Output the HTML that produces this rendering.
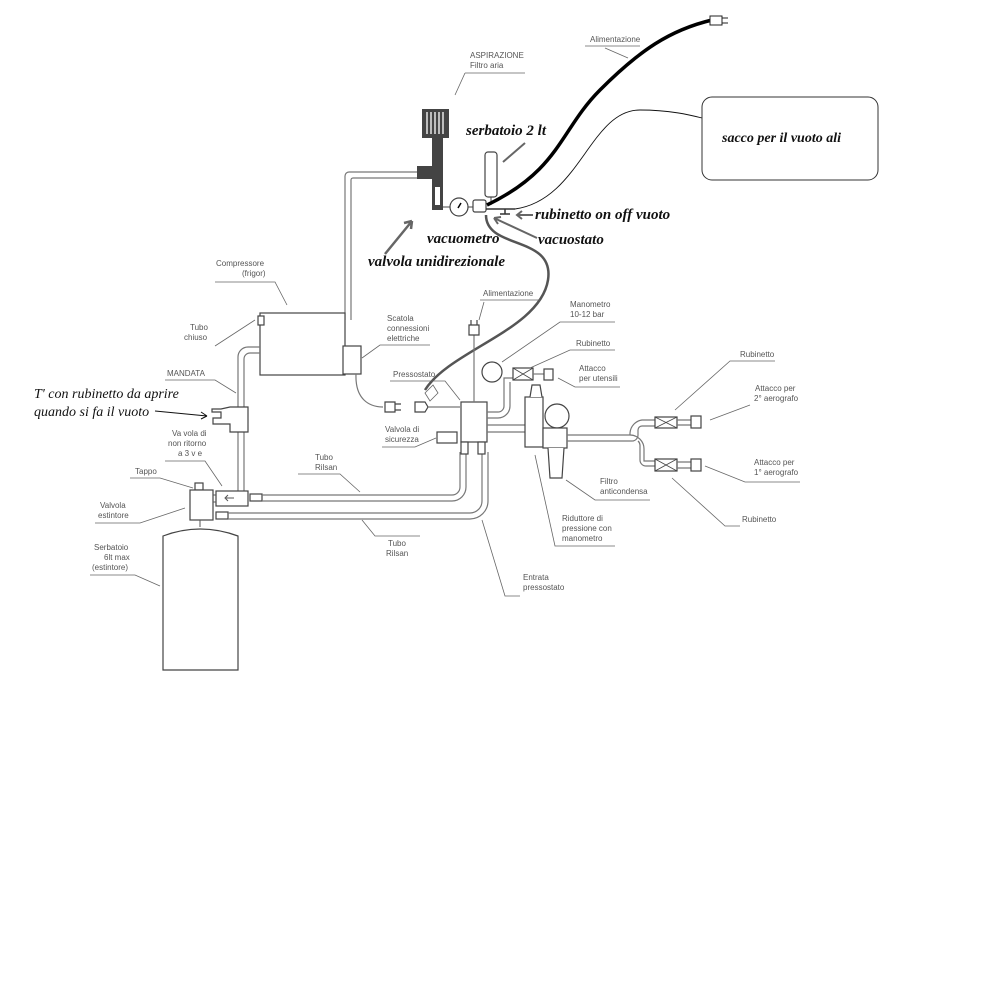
<!DOCTYPE html>
<html><head><meta charset="utf-8"><style>
html,body{margin:0;padding:0;background:#fff;}
svg{display:block;}
.l{font-family:"Liberation Sans",sans-serif;font-size:8px;fill:#555;}
.b{font-family:"Liberation Serif",serif;font-weight:bold;font-style:italic;font-size:15px;fill:#111;}
.h{font-family:"Liberation Serif",serif;font-style:italic;font-size:14px;fill:#111;}
.ld{stroke:#666;stroke-width:0.8;fill:none;}
.p{fill:none;stroke:#777;stroke-width:1.2;}
.s{fill:#fff;stroke:#444;stroke-width:1.2;}
</style></head><body>
<svg width="1000" height="1000" viewBox="0 0 1000 1000">
<!-- top part -->
<text class="l" x="470" y="58">ASPIRAZIONE</text><text class="l" x="470" y="68">Filtro aria</text>
<path class="ld" d="M465 73 L525 73 M465 73 L455 95"/>
<text class="l" x="590" y="42">Alimentazione</text>
<path class="ld" d="M585 46 L640 46 M605 48 L628 58"/>
<!-- filter -->
<rect x="422" y="109" width="27" height="29" fill="#444"/>
<path d="M427 112v22M431 112v22M435 112v22M439 112v22M443 112v22" stroke="#fff" stroke-width="1.3"/>
<rect x="432" y="138" width="11" height="72" fill="#444"/>
<rect x="417" y="166" width="26" height="13" fill="#444"/>
<rect x="435" y="187" width="5" height="18" fill="#fff"/>
<path d="M345 320 V176 a4 4 0 0 1 4 -4 H417 M351 320 V180 a2 2 0 0 1 2 -2 H417" class="p" stroke="#555"/>
<line x1="443" y1="207" x2="450" y2="207" stroke="#444"/>
<circle cx="459" cy="207" r="9" class="s"/>
<line x1="458" y1="208" x2="461" y2="203" stroke="#000" stroke-width="1.5"/>
<line x1="468" y1="207" x2="473" y2="207" stroke="#444"/>
<rect x="473" y="200" width="13" height="12" rx="2" class="s"/>
<rect x="485" y="152" width="12" height="45" rx="3" class="s"/>
<line x1="491" y1="197" x2="491" y2="205" stroke="#444"/>
<path d="M486 209 H515 M505 209 v5 M500 214 h10" stroke="#333" stroke-width="1.5" fill="none"/>
<path d="M487 205 C560 170 560 130 600 90 C640 50 670 30 712 20" stroke="#000" stroke-width="3.5" fill="none"/>
<path d="M710 16 h12 v9 h-12 z M722 18 h6 M722 23 h6" fill="#fff" stroke="#222"/>
<path d="M515 209 C580 200 590 110 640 110 C670 110 690 115 702 118" stroke="#111" stroke-width="0.9" fill="none"/>
<rect x="702" y="97" width="176" height="83" rx="10" fill="#fff" stroke="#333"/>
<text class="b" x="722" y="142" style="font-size:14px">sacco per il vuoto ali</text>
<text class="b" x="466" y="135">serbatoio 2 lt</text>
<line x1="503" y1="162" x2="525" y2="143" stroke="#666" stroke-width="2"/>
<text class="b" x="535" y="219">rubinetto on off vuoto</text>
<path d="M533 215 H518 M522 211 l-5 4 5 4" stroke="#666" stroke-width="2" fill="none"/>
<text class="b" x="538" y="244">vacuostato</text>
<path d="M537 238 L494 218 M494 218 l7 -1 M494 218 l4 6" stroke="#666" stroke-width="2" fill="none"/>
<text class="b" x="427" y="243">vacuometro</text>
<text class="b" x="368" y="266">valvola unidirezionale</text>
<path d="M385 254 L412 221 M412 221 l-8 2 M412 221 l-1 8" stroke="#666" stroke-width="2.5" fill="none"/>
<!-- gray cable -->
<path d="M486 215 C486 250 555 235 548 280 C540 330 450 350 425 390" stroke="#555" stroke-width="2.5" fill="none"/>
<!-- compressor -->
<text class="l" x="216" y="266">Compressore</text><text class="l" x="242" y="276">(frigor)</text>
<path class="ld" d="M215 282 L275 282 L287 305"/>
<rect x="260" y="313" width="85" height="62" class="s"/>
<rect x="258" y="316" width="6" height="9" class="s"/>
<text class="l" x="190" y="330">Tubo</text><text class="l" x="184" y="340">chiuso</text>
<path class="ld" d="M215 346 L255 320"/>
<rect x="343" y="346" width="18" height="28" class="s"/>
<text class="l" x="387" y="321">Scatola</text><text class="l" x="387" y="331">connessioni</text><text class="l" x="387" y="341">elettriche</text>
<path class="ld" d="M430 345 L380 345 L362 358"/>
<path d="M356 374 C355 400 370 407 383 407" class="p"/>
<path d="M385 402 h10 v10 h-10z M395 404 h6 M395 410 h6" class="s"/>
<path d="M415 402 h10 l3 5 -3 5 h-10z" class="s"/>
<path d="M428 407 H460" class="p"/>
<!-- mandata -->
<path d="M260 347 H248 a10 10 0 0 0 -10 10 V492 M260 353 H250 a6 6 0 0 0 -6 6 V492" class="p"/>
<text class="l" x="167" y="376">MANDATA</text>
<path class="ld" d="M165 380 L215 380 L236 393"/>
<path d="M230 407 h18 v25 h-18 v-8 h-17 v-6 h8 v-6 h-9 v-3 h9 z" class="s" stroke="#111"/>
<text class="h" x="34" y="398">T' con rubinetto da aprire</text>
<text class="h" x="34" y="416">quando si fa il vuoto</text>
<path d="M155 411 L207 416 M207 416 l-6 -4 M207 416 l-6 3" stroke="#111" fill="none"/>
<text class="l" x="172" y="436">Va vola di</text><text class="l" x="168" y="446">non ritorno</text><text class="l" x="178" y="456">a 3 v e</text>
<path class="ld" d="M165 461 L205 461 L222 486"/>
<text class="l" x="135" y="474">Tappo</text>
<path class="ld" d="M130 478 L160 478 L193 488"/>
<rect x="195" y="483" width="8" height="7" class="s"/>
<rect x="190" y="490" width="23" height="30" class="s"/>
<rect x="216" y="491" width="32" height="15" class="s"/>
<path d="M226 498 h8 M228 495 l-3 3 3 3" stroke="#555" fill="none"/>
<text class="l" x="100" y="508">Valvola</text><text class="l" x="98" y="518">estintore</text>
<path class="ld" d="M95 523 L140 523 L185 508"/>
<path d="M213 495 h3 M213 502 h3" stroke="#555"/>
<path d="M163 670 V536 Q200 522 238 536 V670 Z" class="s" stroke="#666"/>
<path d="M200 520 v7" stroke="#555"/>
<text class="l" x="94" y="550">Serbatoio</text><text class="l" x="104" y="560">6lt max</text><text class="l" x="92" y="570">(estintore)</text>
<path class="ld" d="M90 575 L135 575 L160 586"/>
<!-- rilsan -->
<rect x="250" y="494" width="12" height="7" class="s"/>
<rect x="216" y="512" width="12" height="7" class="s"/>
<path d="M262 495 H452 a8 8 0 0 0 8 -8 V452 M262 501 H452 a14 14 0 0 0 14 -14 V452" class="p"/>
<path d="M228 513 H470 a12 12 0 0 0 12 -12 V452 M228 519 H470 a18 18 0 0 0 18 -18 V452" class="p"/>
<text class="l" x="315" y="460">Tubo</text><text class="l" x="315" y="470">Rilsan</text>
<path class="ld" d="M298 474 L340 474 L360 492"/>
<text class="l" x="388" y="546">Tubo</text><text class="l" x="386" y="556">Rilsan</text>
<path class="ld" d="M420 536 L375 536 L362 520"/>
<text class="l" x="523" y="580">Entrata</text><text class="l" x="523" y="590">pressostato</text>
<path class="ld" d="M520 596 L505 596 L482 520"/>
<!-- pressostato -->
<rect x="461" y="402" width="26" height="40" class="s"/>
<rect x="461" y="442" width="7" height="12" class="s"/><rect x="478" y="442" width="7" height="12" class="s"/>
<rect x="437" y="432" width="20" height="11" class="s"/>
<text class="l" x="385" y="432">Valvola di</text><text class="l" x="385" y="442">sicurezza</text>
<path class="ld" d="M382 447 L415 447 L436 438"/>
<text class="l" x="393" y="377">Pressostato</text>
<path class="ld" d="M390 381 L445 381 L460 400"/>
<path d="M474 402 V335" class="p"/>
<path d="M469 325 h10 v10 h-10 z M471 320 v5 M477 320 v5" class="s"/>
<text class="l" x="483" y="296">Alimentazione</text>
<path class="ld" d="M480 300 L540 300 M484 302 L479 320"/>
<path class="ld" d="M425 393 l8 -8 5 8 -8 8z" fill="#fff"/>
<!-- manometro -->
<circle cx="492" cy="372" r="10" class="s"/>
<path d="M487 412 H498 a6 6 0 0 0 6 -6 V378 H513 M487 418 H498 a12 12 0 0 0 12 -12 V382" class="p"/>
<text class="l" x="570" y="307">Manometro</text><text class="l" x="570" y="317">10-12 bar</text>
<path class="ld" d="M615 322 L560 322 L502 362"/>
<rect x="513" y="368" width="20" height="12" class="s"/>
<path d="M513 368 L533 380 M533 368 L513 380" stroke="#444" stroke-width="0.8"/>
<path d="M533 374 h11" class="p"/>
<rect x="544" y="369" width="9" height="11" class="s"/>
<text class="l" x="576" y="346">Rubinetto</text>
<path class="ld" d="M615 350 L570 350 L530 368"/>
<text class="l" x="579" y="371">Attacco</text><text class="l" x="579" y="381">per utensili</text>
<path class="ld" d="M620 387 L575 387 L558 378"/>
<!-- main line to reducer -->
<path d="M487 425 H525 M487 432 H525" class="p"/>
<rect x="525" y="397" width="18" height="50" class="s"/>
<path d="M530 397 l2 -12 h8 l2 12" class="s"/>
<circle cx="557" cy="416" r="12" class="s"/>
<rect x="543" y="428" width="24" height="20" class="s"/>
<path d="M548 448 l2 30 h12 l2 -30" class="s"/>
<path d="M567 435 H630 M567 441 H630" class="p"/>
<path d="M630 441 H632 a6 6 0 0 0 6 -6 V430 a4 4 0 0 1 4 -4 H655 M630 435 V433 a14 14 0 0 1 12 -13 H655" class="p"/>
<path d="M630 435 a14 14 0 0 1 14 14 V461 H655 M638 441 a6 6 0 0 1 2 4 V460 a6 6 0 0 0 6 6 H655" class="p"/>
<g>
<rect x="655" y="417" width="22" height="11" class="s"/><path d="M655 417 L677 428 M677 417 L655 428" stroke="#444" stroke-width="0.8"/>
<path d="M677 420 h14 M677 425 h14" class="p"/><rect x="691" y="416" width="10" height="12" class="s"/>
<rect x="655" y="459" width="22" height="12" class="s"/><path d="M655 459 L677 471 M677 459 L655 471" stroke="#444" stroke-width="0.8"/>
<path d="M677 462 h14 M677 468 h14" class="p"/><rect x="691" y="459" width="10" height="12" class="s"/>
</g>
<text class="l" x="740" y="357">Rubinetto</text>
<path class="ld" d="M775 361 L730 361 L675 410"/>
<text class="l" x="755" y="391">Attacco per</text><text class="l" x="754" y="401">2° aerografo</text>
<path class="ld" d="M750 405 L710 420"/>
<text class="l" x="754" y="465">Attacco per</text><text class="l" x="754" y="475">1° aerografo</text>
<path class="ld" d="M800 482 L745 482 L705 466"/>
<text class="l" x="742" y="522">Rubinetto</text>
<path class="ld" d="M740 526 L725 526 L672 478"/>
<text class="l" x="600" y="484">Filtro</text><text class="l" x="600" y="494">anticondensa</text>
<path class="ld" d="M650 500 L595 500 L566 480"/>
<text class="l" x="562" y="521">Riduttore di</text><text class="l" x="562" y="531">pressione con</text><text class="l" x="562" y="541">manometro</text>
<path class="ld" d="M615 546 L555 546 L535 455"/>
</svg>
</body></html>
